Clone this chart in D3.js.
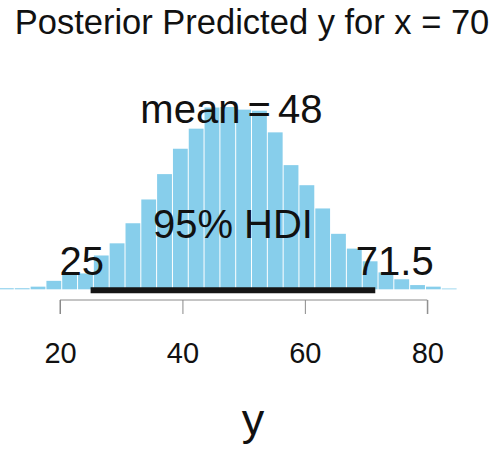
<!DOCTYPE html>
<html><head><meta charset="utf-8">
<script src="https://cdn.jsdelivr.net/npm/d3@7"></script>
<style>
html,body{margin:0;padding:0;background:#fff;}
svg{display:block;}
text{font-family:"Liberation Sans", Arial, Helvetica, sans-serif;fill:#111;}
</style></head>
<body>
<svg id="chart" width="504" height="455"></svg>
<script>
const title = "Posterior Predicted y for x = 70";
const xLabel = "y";
const binEdges = [9.95,12.53,15.12,17.70,20.28,22.87,25.45,28.03,30.62,33.20,35.78,38.37,40.95,43.53,46.12,48.70,51.28,53.87,56.45,59.03,61.62,64.20,66.78,69.37,71.95,74.53,77.12,79.70,82.28,84.87];
const density = [0.0002,0.0002,0.0005,0.0016,0.0028,0.0030,0.0064,0.0087,0.0125,0.0170,0.0218,0.0266,0.0304,0.0344,0.0345,0.0340,0.0338,0.0297,0.0235,0.0197,0.0153,0.0105,0.0077,0.0053,0.0032,0.0019,0.0008,0.0005,0.00015];
const xTicks = [20,40,60,80];
const meanValue = 48;
const hdi = [25, 71.5];
const hdiLabels = ["25","71.5"];

const svg = d3.select("#chart");
const x = d3.scaleLinear().domain([20,80]).range([60,427.3]);
const y = d3.scaleLinear().domain([0,0.0345]).range([289.3,107]);

const bins = density.map((d,i)=>({x0:binEdges[i],x1:binEdges[i+1],d}));
svg.append("g").selectAll("rect").data(bins).join("rect")
  .attr("x",b=>x(b.x0)+0.5)
  .attr("width",b=>Math.max(0,x(b.x1)-x(b.x0)-1))
  .attr("y",b=>y(b.d))
  .attr("height",b=>y(0)-y(b.d))
  .attr("fill","#87CEEB");

// HDI line
svg.append("line")
  .attr("x1",x(hdi[0])).attr("x2",x(hdi[1]))
  .attr("y1",y(0)+1).attr("y2",y(0)+1)
  .attr("stroke","#151515").attr("stroke-width",6);

// axis
const axis = d3.axisBottom(x).tickValues(xTicks).tickSize(14).tickPadding(27).tickFormat(d3.format("d"));
const ag = svg.append("g").attr("transform","translate(0,300)").call(axis);
ag.select(".domain").attr("stroke","#8a8a8a").attr("d",`M${x(20)},14V0H${x(80)}V14`);
ag.selectAll(".tick line").attr("stroke","#8a8a8a");
ag.selectAll(".tick text").attr("font-size",29).attr("fill","#111")
  .attr("font-family","'Liberation Sans', Arial, sans-serif").attr("dy",null).attr("y",63);

// title
svg.append("text").attr("x",252).attr("y",34).attr("text-anchor","middle")
  .attr("font-size",34.5).text(title);

// x label
svg.append("text").attr("x",253).attr("y",435).attr("text-anchor","middle")
  .attr("font-size",45).text(xLabel);

// mean text
svg.append("text").attr("x",x(meanValue)).attr("y",123).attr("text-anchor","middle")
  .attr("font-size",40).attr("word-spacing","-4").text("mean = " + meanValue);

// HDI text
svg.append("text").attr("x",x((hdi[0]+hdi[1])/2)).attr("y",238).attr("text-anchor","middle")
  .attr("font-size",40).text("95% HDI");

// HDI endpoints
const lo = svg.append("text").attr("y",275).attr("font-size",40).text(hdiLabels[0]);
const loW = lo.node().getComputedTextLength();
lo.attr("x",x(hdi[0]) - 0.7*loW);
const hi = svg.append("text").attr("y",275).attr("font-size",40).text(hdiLabels[1]);
const hiW = hi.node().getComputedTextLength();
hi.attr("x",x(hdi[1]) - 0.25*hiW);
</script>
</body></html>
